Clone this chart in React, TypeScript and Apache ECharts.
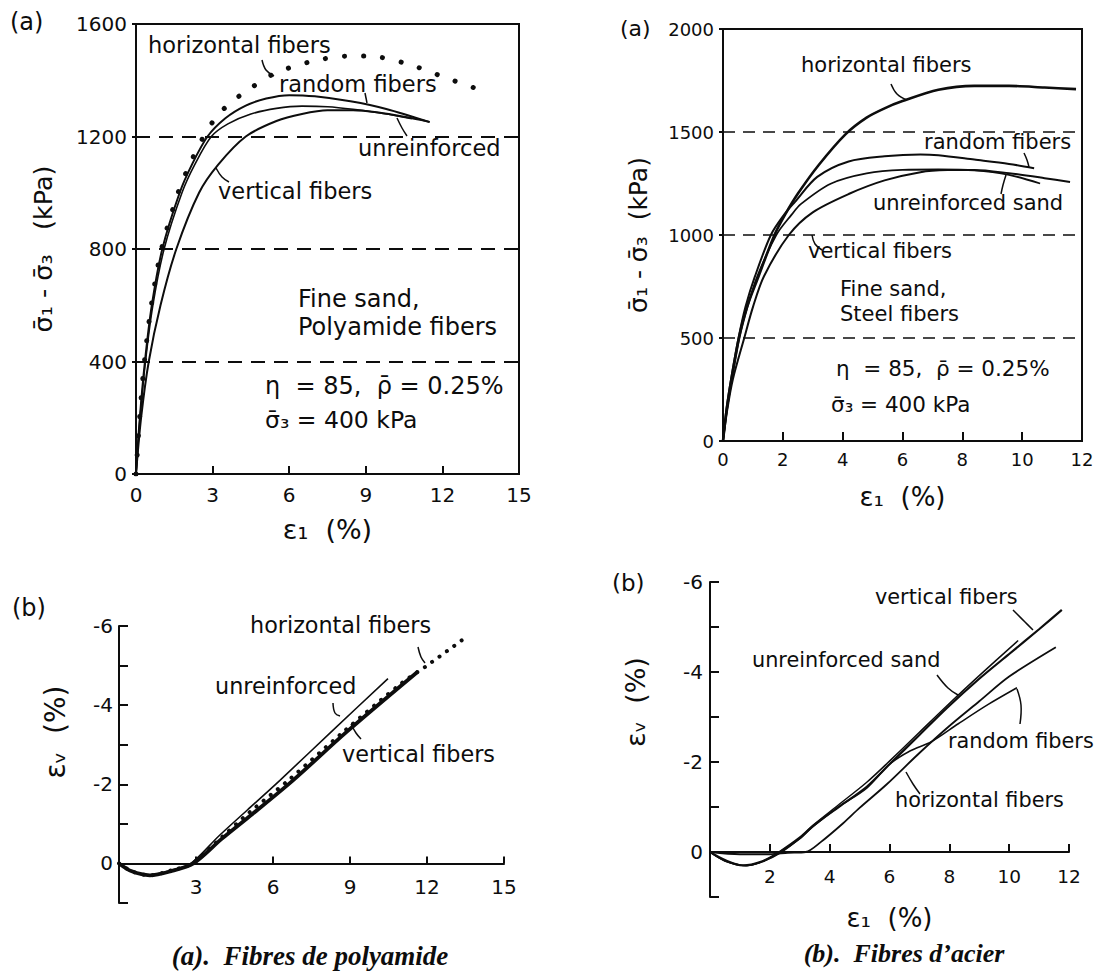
import React, { useEffect, useRef } from 'react';
import * as echarts from 'echarts';

const FONT = '"DejaVu Sans", "Liberation Sans", sans-serif';
const SERIF = '"Liberation Serif", "DejaVu Serif", serif';
const INK = '#0d0d0d';

// ---- (a) Polyamide fibers: deviator stress (kPa) vs axial strain (%) ----
const polyStressHorizontal = [[0, 0], [0.15, 210], [0.33, 400], [0.6, 600], [1.0, 800], [1.65, 1000], [2.1, 1100], [2.65, 1200], [3.15, 1270], [3.7, 1320], [4.3, 1360], [5.4, 1423], [6.8, 1465], [8.3, 1486], [9.1, 1486], [10.6, 1459], [12.1, 1410], [13.4, 1368]];
const polyStressRandom = [[0, 0], [0.15, 200], [0.35, 400], [0.62, 600], [1.03, 800], [1.71, 1000], [2.19, 1100], [2.8, 1200], [3.5, 1265], [4.3, 1310], [5.1, 1335], [6.0, 1347], [7.0, 1343], [8.4, 1325], [9.8, 1298], [11.5, 1251]];
const polyStressUnreinforced = [[0, 0], [0.15, 190], [0.37, 400], [0.66, 600], [1.1, 800], [1.8, 1000], [2.3, 1100], [2.95, 1200], [3.6, 1245], [4.5, 1280], [5.5, 1300], [6.5, 1308], [7.5, 1306], [8.5, 1297], [9.7, 1282], [10.8, 1263]];
const polyStressVertical = [[0, 0], [0.2, 200], [0.5, 400], [0.96, 600], [1.58, 800], [2.47, 1000], [3.22, 1100], [4.3, 1200], [5.5, 1255], [6.5, 1280], [7.5, 1293], [8.5, 1293], [9.5, 1285], [10.5, 1270], [11.5, 1252]];

// ---- (a) Steel fibers: deviator stress (kPa) vs axial strain (%) ----
const steelStressHorizontal = [[0, 0], [0.12, 150], [0.28, 300], [0.53, 500], [0.8, 650], [1.19, 800], [1.72, 1000], [2.08, 1100], [2.5, 1200], [3.2, 1340], [4.1, 1490], [4.8, 1570], [5.4, 1615], [6.0, 1650], [7.2, 1705], [8.4, 1724], [9.56, 1724], [10.75, 1716], [11.8, 1708]];
const steelStressRandom = [[0, 0], [0.12, 160], [0.27, 300], [0.52, 500], [0.75, 650], [1.07, 800], [1.6, 1000], [2.05, 1100], [2.4, 1160], [3.15, 1282], [4.2, 1357], [5.4, 1382], [6.6, 1391], [7.2, 1387], [8.4, 1366], [9.56, 1345], [10.4, 1324]];
const steelStressUnreinforced = [[0, 0], [0.13, 150], [0.3, 300], [0.55, 500], [0.82, 650], [1.15, 800], [1.78, 1000], [2.3, 1100], [2.6, 1150], [3.6, 1249], [4.8, 1299], [6.0, 1316], [7.2, 1318], [8.4, 1314], [9.56, 1292], [10.6, 1250]];
const steelStressVertical = [[0, 0], [0.14, 150], [0.33, 300], [0.71, 500], [1.0, 650], [1.37, 800], [2.2, 1000], [3.0, 1110], [4.2, 1199], [5.4, 1265], [6.6, 1305], [7.5, 1315], [8.4, 1316], [9.56, 1300], [10.75, 1276], [11.6, 1257]];

// ---- (b) Polyamide fibers: volumetric strain (%) vs axial strain (%) ----
const polyVolHorizontal = [[0, 0], [0.5, 0.2], [1.2, 0.3], [2.0, 0.18], [2.85, 0], [4.0, -0.66], [5.1, -1.3], [6.6, -2.1], [8.7, -3.3], [11.0, -4.55], [12.0, -5.0], [13.4, -5.66]];
const polyVolUnreinforced = [[0, 0], [0.5, 0.2], [1.1, 0.3], [2.0, 0.18], [2.8, 0], [3.9, -0.7], [5.0, -1.35], [6.27, -2.1], [8.34, -3.37], [10.48, -4.67]];
const polyVolVertical = [[0, 0], [0.5, 0.2], [1.2, 0.3], [2.0, 0.2], [2.9, 0], [4.0, -0.62], [5.2, -1.25], [6.78, -2.1], [8.88, -3.33], [11.65, -4.85]];

// ---- (b) Steel fibers: volumetric strain (%) vs axial strain (%) ----
const steelVolVertical = [[0, 0], [0.5, 0.18], [1.1, 0.3], [1.7, 0.22], [2.34, 0], [3.0, -0.3], [3.45, -0.58], [4.3, -1.0], [5.24, -1.45], [6.0, -1.95], [7.0, -2.6], [7.92, -3.2], [9.0, -3.85], [10.0, -4.4], [11.0, -4.95], [11.76, -5.38]];
const steelVolUnreinforced = [[0, 0], [0.5, 0.2], [1.2, 0.3], [1.8, 0.2], [2.3, 0], [3.0, -0.33], [3.45, -0.6], [4.3, -1.05], [5.24, -1.55], [6.0, -2.02], [7.0, -2.66], [7.92, -3.25], [9.0, -3.92], [10.3, -4.7]];
const steelVolRandom = [[0, 0], [0.5, 0.2], [1.2, 0.3], [1.8, 0.2], [2.4, 0], [3.0, -0.3], [3.45, -0.57], [4.3, -1.0], [5.24, -1.42], [6.0, -1.95], [6.7, -2.25], [7.4, -2.45], [8.3, -2.85], [9.3, -3.28], [10.26, -3.65]];
const steelVolHorizontal = [[0, 0], [1.0, 0.05], [2.0, 0.05], [2.6, 0.02], [3.2, 0], [3.7, -0.22], [4.45, -0.64], [5.0, -0.98], [5.9, -1.5], [7.0, -2.2], [8.0, -2.8], [9.0, -3.35], [10.0, -3.9], [11.56, -4.55]];

// axis ranges / ticks
const polyStrainTicks = { min: 0, max: 15, interval: 3 };
const steelStrainTicks = { min: 0, max: 12, interval: 2 };
const polyStressTicks = { min: 0, max: 1600, interval: 400 };
const steelStressTicks = { min: 0, max: 2000, interval: 500 };
const volTicks = { min: -6, max: 1, interval: 1 };

const axisLine = { show: true, onZero: false, lineStyle: { color: INK, width: 2 } };
const plain = (v: number) => String(v);

function lineSeries(data: number[][], idx: number, width: number, dots?: number) {
  return {
    type: 'line',
    xAxisIndex: idx,
    yAxisIndex: idx,
    data,
    symbol: 'none',
    showSymbol: false,
    smooth: 0.3,
    silent: true,
    z: dots ? 4 : 3,
    lineStyle: dots
      ? { color: INK, width: dots > 12 ? 5 : 4, type: [0.1, dots], cap: 'round' }
      : { color: INK, width },
  };
}

function txt(text: string, x: number, y: number, size = 21, extra: any = {}) {
  const { rotation, ...styleExtra } = extra;
  return {
    type: 'text',
    x,
    y,
    rotation: rotation || 0,
    silent: true,
    style: {
      text,
      fontSize: size,
      fontFamily: FONT,
      fill: INK,
      align: 'left',
      verticalAlign: 'middle',
      textAlign: 'left',
      textVerticalAlign: 'middle',
      ...styleExtra,
    },
  };
}

function pointer(points: number[][]) {
  return {
    type: 'polyline',
    silent: true,
    shape: { points, smooth: 0.4 },
    style: { stroke: INK, lineWidth: 1.5, fill: 'none' },
  };
}

const labelStyle = (size: number, margin: number) => ({
  color: INK,
  fontSize: size,
  fontFamily: FONT,
  margin,
});

const captionStyle = {
  fontFamily: SERIF, fontStyle: 'italic', fontWeight: 'bold', align: 'center', textAlign: 'center',
};
const vertical = { rotation: Math.PI / 2, align: 'center', textAlign: 'center' };

function buildOption() {
  return {
    animation: false,
    backgroundColor: '#ffffff',
    grid: [
      { left: 136, top: 24, width: 383, height: 450, show: true, borderColor: INK, borderWidth: 2 },
      { left: 723, top: 29, width: 359, height: 412, show: true, borderColor: INK, borderWidth: 2 },
      { left: 119, top: 626, width: 385, height: 277 },
      { left: 710, top: 582, width: 359, height: 315 },
    ],
    xAxis: [
      {
        gridIndex: 0, type: 'value', ...polyStrainTicks,
        axisLine, axisTick: { inside: true, length: 8, lineStyle: { color: INK, width: 2 } },
        axisLabel: { ...labelStyle(20, 11), formatter: plain }, splitLine: { show: false },
        name: 'ε₁  (%)', nameLocation: 'middle', nameGap: 42,
        nameTextStyle: { color: INK, fontSize: 27, fontFamily: FONT },
      },
      {
        gridIndex: 1, type: 'value', ...steelStrainTicks,
        axisLine, axisTick: { inside: true, length: 9, lineStyle: { color: INK, width: 2 } },
        axisLabel: { ...labelStyle(18, 9), formatter: plain }, splitLine: { show: false },
        name: 'ε₁  (%)', nameLocation: 'middle', nameGap: 43,
        nameTextStyle: { color: INK, fontSize: 26, fontFamily: FONT },
      },
      {
        gridIndex: 2, type: 'value', ...polyStrainTicks,
        position: 'bottom', offset: -277 / 7,
        axisLine,
        axisTick: { inside: true, length: 7, lineStyle: { color: INK, width: 2 } },
        axisLabel: { ...labelStyle(20, 14), formatter: (v: number) => (v === 0 ? '' : String(v)) },
        splitLine: { show: false },
      },
      {
        gridIndex: 3, type: 'value', ...steelStrainTicks,
        position: 'bottom', offset: -45,
        axisLine,
        axisTick: { inside: true, length: 8, lineStyle: { color: INK, width: 2 } },
        axisLabel: { ...labelStyle(18.5, 15), formatter: (v: number) => (v === 0 ? '' : String(v)) },
        splitLine: { show: false },
        name: 'ε₁  (%)', nameLocation: 'middle', nameGap: 53,
        nameTextStyle: { color: INK, fontSize: 26, fontFamily: FONT },
      },
    ],
    yAxis: [
      {
        gridIndex: 0, type: 'value', ...polyStressTicks,
        axisLine, axisTick: { show: true, length: 4, lineStyle: { color: INK, width: 2 } },
        axisLabel: { ...labelStyle(20, 9), formatter: plain },
        splitLine: { show: true, lineStyle: { color: INK, width: 1.8, type: [14, 9] } },
        name: 'σ̄₁ - σ̄₃   (kPa)', nameLocation: 'middle', nameGap: 80, nameRotate: 90,
        nameTextStyle: { color: INK, fontSize: 25.5, fontFamily: FONT },
      },
      {
        gridIndex: 1, type: 'value', ...steelStressTicks,
        axisLine, axisTick: { show: true, length: 4, lineStyle: { color: INK, width: 2 } },
        axisLabel: { ...labelStyle(18, 9), formatter: plain },
        splitLine: { show: true, lineStyle: { color: INK, width: 1.6, type: [12, 8] } },
        name: 'σ̄₁ - σ̄₃  (kPa)', nameLocation: 'middle', nameGap: 72, nameRotate: 90,
        nameTextStyle: { color: INK, fontSize: 25, fontFamily: FONT },
      },
      {
        gridIndex: 2, type: 'value', ...volTicks, inverse: true,
        axisLine, axisTick: { inside: true, length: 9, lineStyle: { color: INK, width: 2 } },
        axisLabel: { ...labelStyle(20, 6), formatter: (v: number) => (v <= 0 && v % 2 === 0 ? String(v) : '') },
        splitLine: { show: false },
      },
      {
        gridIndex: 3, type: 'value', ...volTicks, inverse: true,
        axisLine, axisTick: { inside: true, length: 9, lineStyle: { color: INK, width: 2 } },
        axisLabel: { ...labelStyle(20, 7), formatter: (v: number) => (v <= 0 && v % 2 === 0 ? String(v) : '') },
        splitLine: { show: false },
      },
    ],
    series: [
      lineSeries(polyStressRandom, 0, 2),
      lineSeries(polyStressUnreinforced, 0, 1.6),
      lineSeries(polyStressVertical, 0, 2),
      lineSeries(polyStressHorizontal, 0, 2, 19),

      lineSeries(steelStressHorizontal, 1, 2.6),
      lineSeries(steelStressRandom, 1, 2),
      lineSeries(steelStressUnreinforced, 1, 1.8),
      lineSeries(steelStressVertical, 1, 2),

      lineSeries(polyVolUnreinforced, 2, 1.6),
      lineSeries(polyVolVertical, 2, 3.8),
      lineSeries(polyVolHorizontal, 2, 2, 9),

      lineSeries(steelVolVertical, 3, 2.2),
      lineSeries(steelVolUnreinforced, 3, 1.5),
      lineSeries(steelVolRandom, 3, 1.5),
      lineSeries(steelVolHorizontal, 3, 1.8),
    ],
    graphic: [
      // panel tags
      txt('(a)', 10, 22, 24),
      txt('(a)', 620, 28, 22),
      txt('(b)', 12, 608, 24),
      txt('(b)', 612, 583, 23),
      // bottom-panel y titles
      txt('εᵥ  (%)', 55, 732, 28, vertical),
      txt('εᵥ  (%)', 635, 702, 27, vertical),
      // top-left annotations
      txt('horizontal fibers', 148, 45, 22.5),
      txt('random fibers', 279, 84, 22.5),
      txt('unreinforced', 358, 148, 22.5),
      txt('vertical fibers', 218, 191, 22.5),
      txt('Fine sand,', 298, 299, 24),
      txt('Polyamide fibers', 298, 327, 24),
      txt('η  = 85,  ρ̄ = 0.25%', 265, 386, 24),
      txt('σ̄₃ = 400 kPa', 265, 420, 23.5),
      pointer([[262, 60], [266, 70], [274, 76]]),
      pointer([[365, 93], [367, 103]]),
      pointer([[397, 118], [402, 128], [407, 136]]),
      pointer([[216, 168], [222, 177], [229, 182]]),
      // top-right annotations
      txt('horizontal fibers', 801, 65, 21),
      txt('random fibers', 924, 142, 21),
      txt('unreinforced sand', 873, 203, 21),
      txt('vertical fibers', 808, 251, 21),
      txt('Fine sand,', 840, 289, 21),
      txt('Steel fibers', 840, 314, 21),
      txt('η  = 85,  ρ̄ = 0.25%', 836, 368, 21.5),
      txt('σ̄₃ = 400 kPa', 831, 404, 21.5),
      pointer([[891, 84], [897, 94], [907, 100]]),
      pointer([[1024, 153], [1027, 160], [1029, 167]]),
      pointer([[1006, 175], [1003, 185], [1001, 194]]),
      pointer([[812, 235], [815, 244], [822, 250]]),
      // bottom-left annotations
      txt('horizontal fibers', 250, 625, 22.3),
      txt('unreinforced', 215, 686, 22.3),
      txt('vertical fibers', 342, 754, 22.3),
      pointer([[333, 703], [335, 713], [340, 716]]),
      pointer([[418, 647], [421, 657], [425, 663]]),
      pointer([[351, 724], [356, 733], [361, 739]]),
      // bottom-right annotations
      txt('vertical fibers', 875, 597, 20.8),
      txt('unreinforced sand', 752, 660, 20.8),
      txt('random fibers', 948, 741, 20.8),
      txt('horizontal fibers', 895, 800, 20.8),
      pointer([[1013, 610], [1025, 622], [1033, 630]]),
      pointer([[937, 675], [948, 688], [958, 695]]),
      pointer([[1017, 689], [1021, 705], [1020, 724]]),
      pointer([[906, 772], [913, 784], [920, 794]]),
      // captions
      txt('(a).  Fibres de polyamide', 310, 956, 27, captionStyle),
      txt('(b).  Fibres d’acier', 904, 953, 26, captionStyle),
    ],
  };
}

export default function App() {
  const ref = useRef<HTMLDivElement>(null);
  useEffect(() => {
    if (!ref.current) return;
    const chart = echarts.init(ref.current, null, { renderer: 'svg' });
    chart.setOption(buildOption() as any);
    return () => chart.dispose();
  }, []);
  return (
    <div
      ref={ref}
      style={{ position: 'fixed', left: 0, top: 0, width: 1101, height: 976, background: '#ffffff' }}
    />
  );
}
